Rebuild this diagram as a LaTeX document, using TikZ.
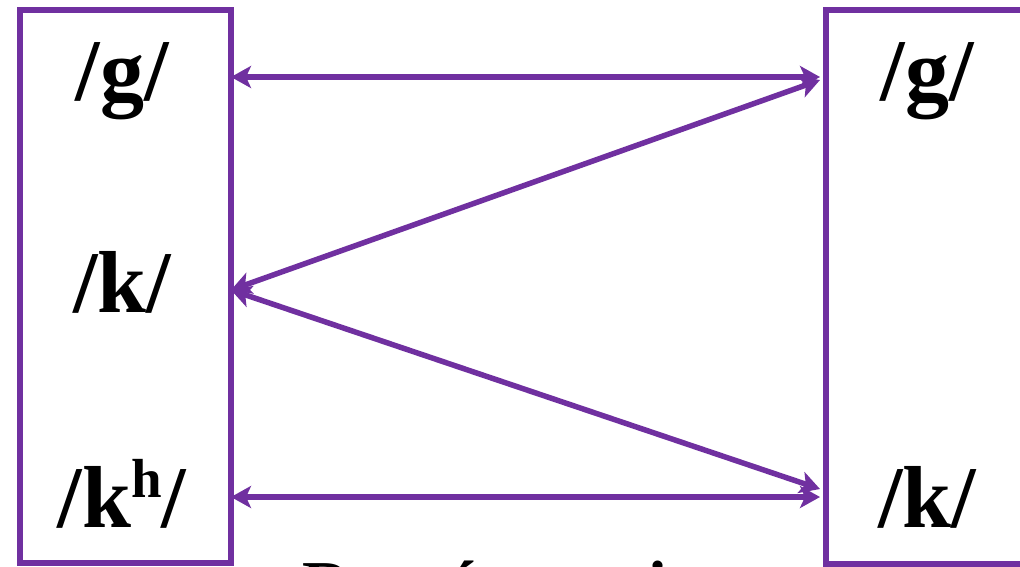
\documentclass[tikz,border=0pt]{standalone}
\usepackage{fontspec}
\setmainfont{Liberation Serif}
\usetikzlibrary{arrows.meta}
\definecolor{vio}{HTML}{7030A0}
\tikzset{
  boxline/.style={draw=vio, line width=6pt},
  lbl/.style={anchor=base, inner sep=0pt, font=\fontsize{88}{100}\selectfont\bfseries},
  tipv/.style={Stealth[length=20pt,width=22pt,inset=5pt]},
  link/.style={draw=vio, line width=5.5pt, {Stealth[length=20pt,width=22pt,inset=5pt]}-{Stealth[length=20pt,width=22pt,inset=5pt]}},
}
\begin{document}
\begin{tikzpicture}[x={(1pt,0)}, y={(0,-1pt)}]
\useasboundingbox (0,0) rectangle (1020,566);
\clip (0,0) rectangle (1020,566);
\fill[white] (0,0) rectangle (1020,566);
% boxes
\node[boxline, minimum width=211pt, minimum height=553pt, inner sep=0pt, anchor=north west] (L) at (17,7) {};
\node[boxline, minimum width=209pt, minimum height=554pt, inner sep=0pt, anchor=north west] (R) at (823,7) {};
% labels
\node[lbl] (lg) at (122,100) {/g/};
\node[lbl] (lk) at (122,312) {/k/};
\node[lbl] (lkh) at (122,527) {/k\raisebox{30pt}{\fontsize{55}{60}\selectfont h}/};
\node[lbl] (rg) at (927,100) {/g/};
\node[lbl] (rk) at (927,527) {/k/};
\node[anchor=base, inner sep=0pt, font=\fontsize{67}{80}\selectfont\bfseries] (cap) at (520,607) {Représentation};
% connector ends
\coordinate (a1) at (231,77);
\coordinate (b1) at (820,77);
\coordinate (a2) at (231,290);
\coordinate (b2) at (820,80);
\coordinate (b3) at (820,489);
\coordinate (a4) at (231,497);
\coordinate (b4) at (820,497);
\draw[link] (a1) -- (b1);
\draw[link] (a2) -- (b2);
\draw[link] (a2) -- (b3);
\draw[link] (a4) -- (b4);
\end{tikzpicture}
\end{document}
